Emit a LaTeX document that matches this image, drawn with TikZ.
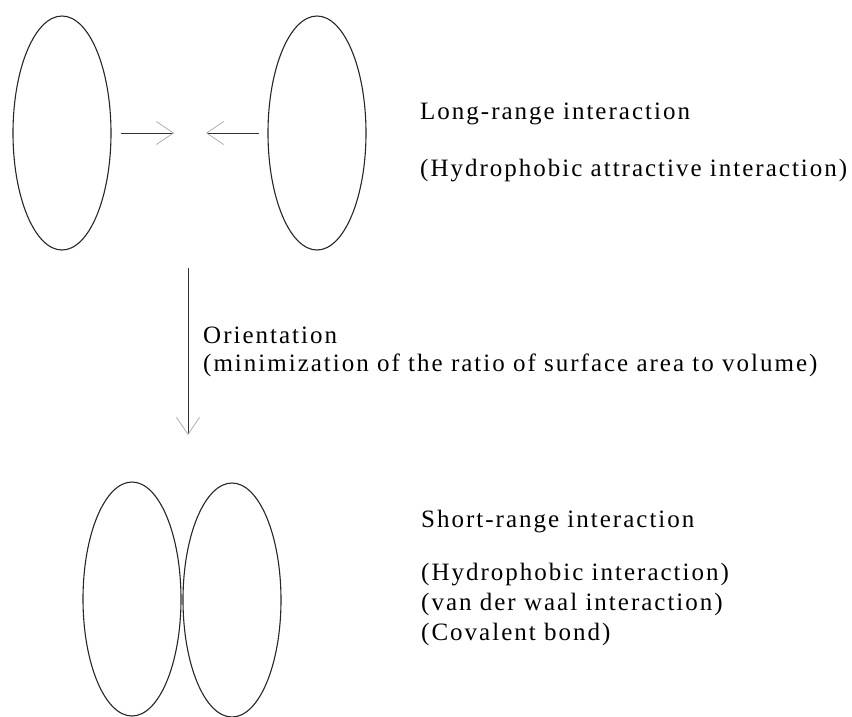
\documentclass[tikz,border=0pt]{standalone}
\usepackage{fontspec}
\setmainfont{Liberation Serif}[LetterSpace=8]
\usetikzlibrary{shapes.geometric,arrows.meta}
\tikzset{
  blob/.style={draw=black!85, line width=1.1pt, ellipse, minimum width=98pt, minimum height=234pt, inner sep=0pt},
  lbl/.style={anchor=base west, inner sep=0pt, font=\fontsize{25pt}{30pt}\selectfont, align=left},
  conn/.style={line width=1pt, draw=black!80, -{Straight Barb[length=17pt, width=23pt, line width=0.7pt, color=black!35]}}
}
\begin{document}
\begin{tikzpicture}[x=1pt,y=-1pt]
\useasboundingbox (0,0) rectangle (852,716);
\clip (0,0) rectangle (852,716);
\node[blob] (e1) at (62,133) {};
\node[blob] (e2) at (317,133) {};
\node[blob] (e3) at (132,599) {};
\node[blob] (e4) at (232,600) {};
\coordinate (a1s) at (121,133);
\coordinate (a1t) at (174,133);
\coordinate (a2s) at (259,133);
\coordinate (a2t) at (206,133);
\coordinate (vs) at (188,268);
\coordinate (vt) at (188,435);
\draw[conn] (a1s) -- (a1t);
\draw[conn] (a2s) -- (a2t);
\draw[conn] (vs) -- (vt);
\node[lbl] (t1) at (420,119) {Long-range interaction};
\node[lbl] (t2) at (420,176) {(Hydrophobic attractive interaction)};
\node[lbl] (t3) at (203,343) {Orientation};
\node[lbl] (t4) at (203,371) {(minimization of the ratio of surface area to volume)};
\node[lbl] (t5) at (421,527) {Short-range interaction};
\node[lbl] (t6) at (421,580) {(Hydrophobic interaction)};
\node[lbl] (t7) at (421,610) {(van der waal interaction)};
\node[lbl] (t8) at (421,640) {(Covalent bond)};
\end{tikzpicture}
\end{document}
